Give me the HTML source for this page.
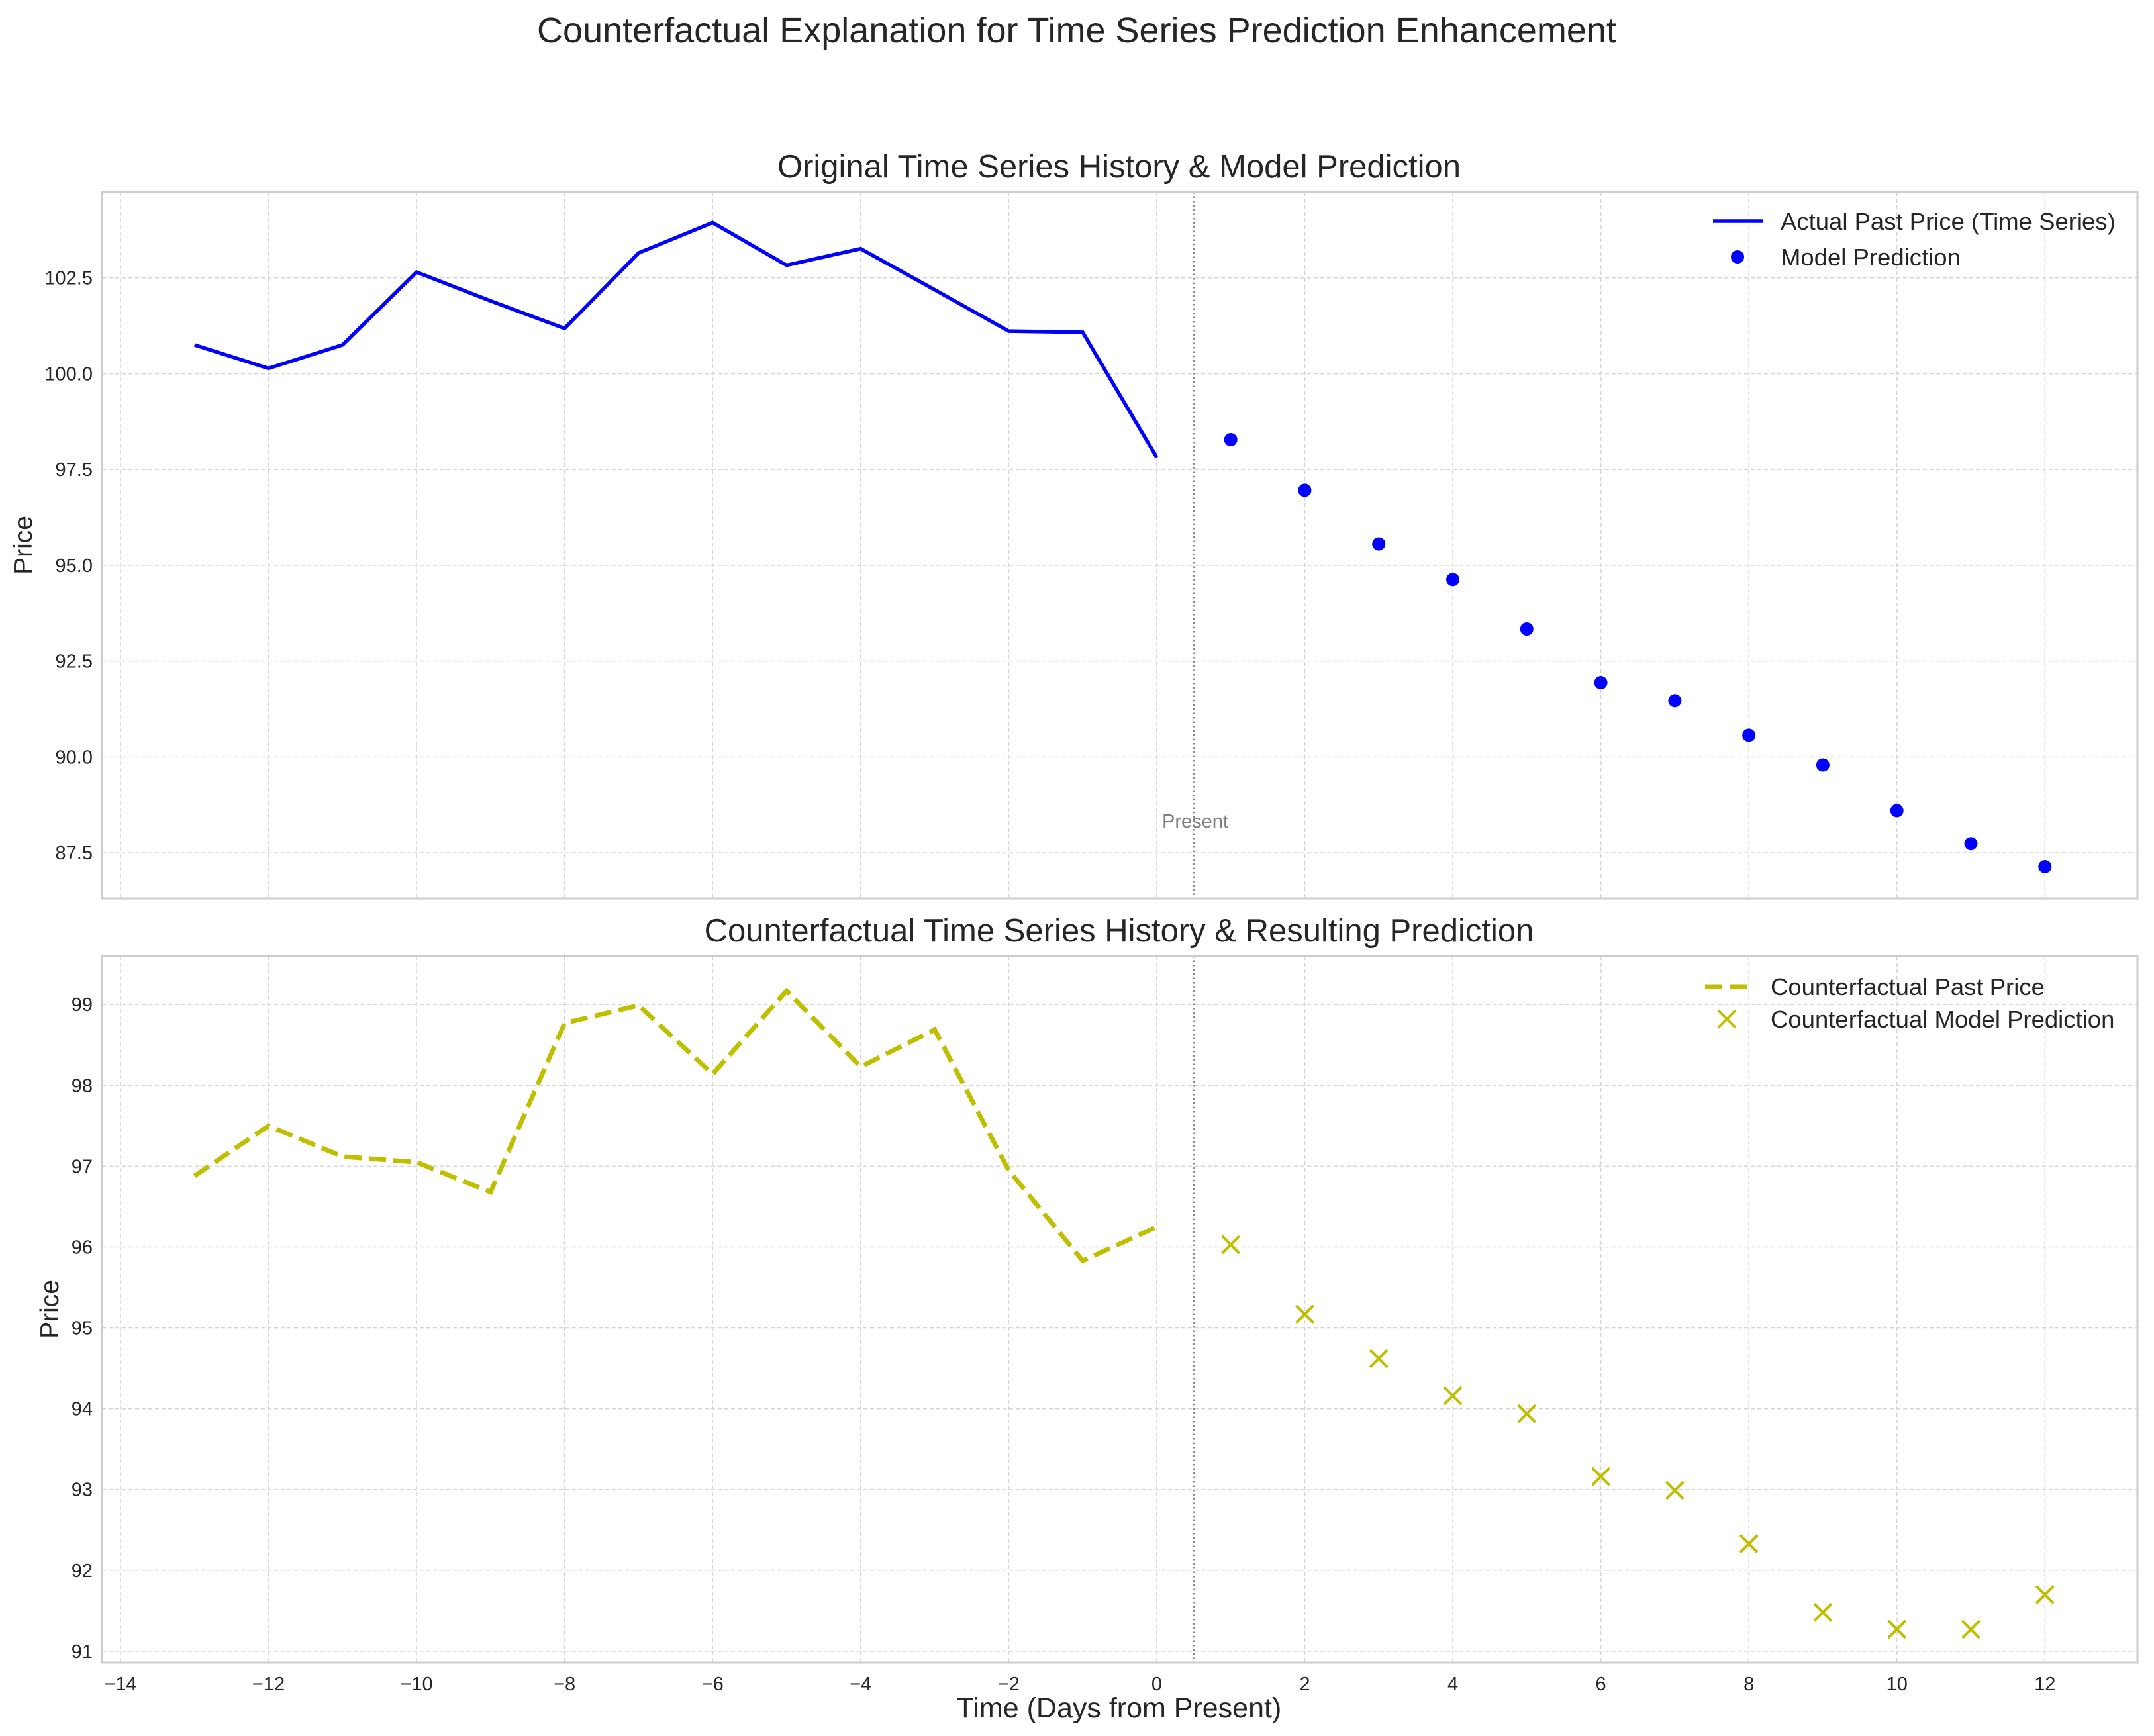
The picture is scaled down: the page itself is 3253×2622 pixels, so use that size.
<!DOCTYPE html>
<html><head><meta charset="utf-8"><style>
html,body{margin:0;padding:0;background:#fff;}
svg{display:block;font-family:"Liberation Sans",Arial,sans-serif;}
</style></head><body>
<svg id="fig" width="3253" height="2622" viewBox="0 0 3253 2622" xmlns="http://www.w3.org/2000/svg">
<rect width="3253" height="2622" fill="#fff"/>
<text x="1626" y="64" font-size="54" text-anchor="middle" fill="#262626">Counterfactual Explanation for Time Series Prediction Enhancement</text>
</svg>
<script>
const histX=[-13,-12,-11,-10,-9,-8,-7,-6,-5,-4,-3,-2,-1,0];
const predX=[1,2,3,4,5,6,7,8,9,10,11,12];
const actualPast=[100.75,100.14,100.75,102.65,101.9,101.18,103.15,103.94,102.83,103.26,102.19,101.11,101.08,97.82];
const modelPred=[98.28,96.96,95.56,94.63,93.34,91.94,91.47,90.57,89.79,88.6,87.74,87.14];
const cfPast=[96.88,97.5,97.12,97.05,96.68,98.77,98.99,98.14,99.17,98.23,98.69,96.95,95.83,96.25];
const cfPred=[96.03,95.17,94.62,94.16,93.94,93.16,92.99,92.33,91.48,91.27,91.27,91.7];
const xTicks=[-14,-12,-10,-8,-6,-4,-2,0,2,4,6,8,10,12];
const yTicksTop=[87.5,90.0,92.5,95.0,97.5,100.0,102.5];
const yTicksBot=[91,92,93,94,95,96,97,98,99];

const NS="http://www.w3.org/2000/svg";
const svg=document.getElementById('fig');
function mk(tag,attrs,parent){const e=document.createElementNS(NS,tag);for(const k in attrs)e.setAttribute(k,attrs[k]);(parent||svg).appendChild(e);return e;}
const L=154,R=3228,X0=-14.25,X1=13.25;
const sx=v=>L+(v-X0)/(X1-X0)*(R-L);

function panel(cfg){
  const g=mk('g',{});
  
  
  const sy=v=>cfg.top+(cfg.y1-v)/(cfg.y1-cfg.y0)*(cfg.bot-cfg.top);
  xTicks.forEach(t=>{const l=mk('line',{x1:sx(t),x2:sx(t),y1:cfg.top,y2:cfg.bot,stroke:'#d6d6d6','stroke-width':1.6,'stroke-dasharray':'6,4'},g);
    
    });
  cfg.yTicks.forEach(t=>{const l=mk('line',{x1:L,x2:R,y1:sy(t),y2:sy(t),stroke:'#d6d6d6','stroke-width':1.6,'stroke-dasharray':'6,4'},g);
    
    
    const tx=mk('text',{x:L-14,y:sy(t)+10,'font-size':29,'text-anchor':'end',fill:'#262626'},g);
    tx.textContent=cfg.fmt(t);
    
    });
  if(cfg.xlabels){xTicks.forEach(t=>{const tx=mk('text',{x:sx(t),y:cfg.bot+42,'font-size':29,'text-anchor':'middle',fill:'#262626'},g);
    tx.textContent=(t<0?'\u2212'+(-t):''+t);
    
    });}
  const pl=mk('line',{x1:sx(0.5),x2:sx(0.5),y1:cfg.top,y2:cfg.bot,stroke:'#888','stroke-width':2.5,'stroke-dasharray':'2.5,4'},g);
  
  
  const fr=mk('rect',{x:L,y:cfg.top,width:R-L,height:cfg.bot-cfg.top,fill:'none',stroke:'#cccccc','stroke-width':3},g);
  
  
  const ti=mk('text',{x:1690,y:cfg.top-22,'font-size':49,'text-anchor':'middle',fill:'#262626'},g);
  ti.textContent=cfg.title;
  
  
  const yl=mk('text',{x:0,y:0,'font-size':39,'text-anchor':'middle',fill:'#262626',transform:`translate(${cfg.ylx},${(cfg.top+cfg.bot)/2}) rotate(-90)`},g);
  yl.textContent='Price';
  
  
  const pts=histX.map((x,i)=>sx(x)+','+sy(cfg.past[i])).join(' ');
  const pa={points:pts,fill:'none',stroke:cfg.color,'stroke-width':cfg.dash?7:5.5,'stroke-linejoin':'miter'};
  if(cfg.dash)pa['stroke-dasharray']='26,11';
  const pl2=mk('polyline',pa,g);
  
  
  predX.forEach((x,i)=>{
    const cx=sx(x),cy=sy(cfg.pred[i]);
    if(cfg.dash){const p=mk('path',{d:`M${cx-13},${cy-13}L${cx+13},${cy+13}M${cx-13},${cy+13}L${cx+13},${cy-13}`,stroke:cfg.color,'stroke-width':4,fill:'none'},g);
      
      }
    else{const c=mk('circle',{cx:cx,cy:cy,r:10,fill:cfg.color},g);
      
      }
  });
  return {g,sy};
}
const topPanel=panel({name:'original-panel',top:290,bot:1357,y0:86.31,y1:104.74,yTicks:yTicksTop,fmt:t=>t.toFixed(1),title:'Original Time Series History & Model Prediction',past:actualPast,pred:modelPred,color:'#0000ff',dash:false,ylx:48,xlabels:false});
const pr=mk('text',{x:1805,y:1250,'font-size':29,'text-anchor':'middle',fill:'#808080'},topPanel.g);
pr.textContent='Present';


const botPanel=panel({name:'counterfactual-panel',top:1444,bot:2511,y0:90.86,y1:99.6,yTicks:yTicksBot,fmt:t=>''+t,title:'Counterfactual Time Series History & Resulting Prediction',past:cfPast,pred:cfPred,color:'#bfbf00',dash:true,ylx:88,xlabels:true});
const xl=mk('text',{x:1690,y:2594,'font-size':43,'text-anchor':'middle',fill:'#262626'});
xl.textContent='Time (Days from Present)';



function legendText(x,y,s,parent){const t=mk('text',{x:x,y:y+13,'font-size':36.5,fill:'#262626'},parent);t.textContent=s;
  
  }
const lg1=mk('g',{});


const e1=mk('line',{x1:2587,x2:2662,y1:334,y2:334,stroke:'#0000ff','stroke-width':5.5},lg1);


legendText(2689,334,'Actual Past Price (Time Series)',lg1);
const e2=mk('circle',{cx:2624,cy:388,r:10,fill:'#0000ff'},lg1);


legendText(2689,388,'Model Prediction',lg1);
const lg2=mk('g',{});


const e3=mk('line',{x1:2575,x2:2645,y1:1490,y2:1490,stroke:'#bfbf00','stroke-width':7,'stroke-dasharray':'26,11'},lg2);


legendText(2674,1490,'Counterfactual Past Price',lg2);
const e4=mk('path',{d:'M2595,1526L2621,1552M2595,1552L2621,1526',stroke:'#bfbf00','stroke-width':4},lg2);


legendText(2674,1539,'Counterfactual Model Prediction',lg2);
</script>
</body></html>
